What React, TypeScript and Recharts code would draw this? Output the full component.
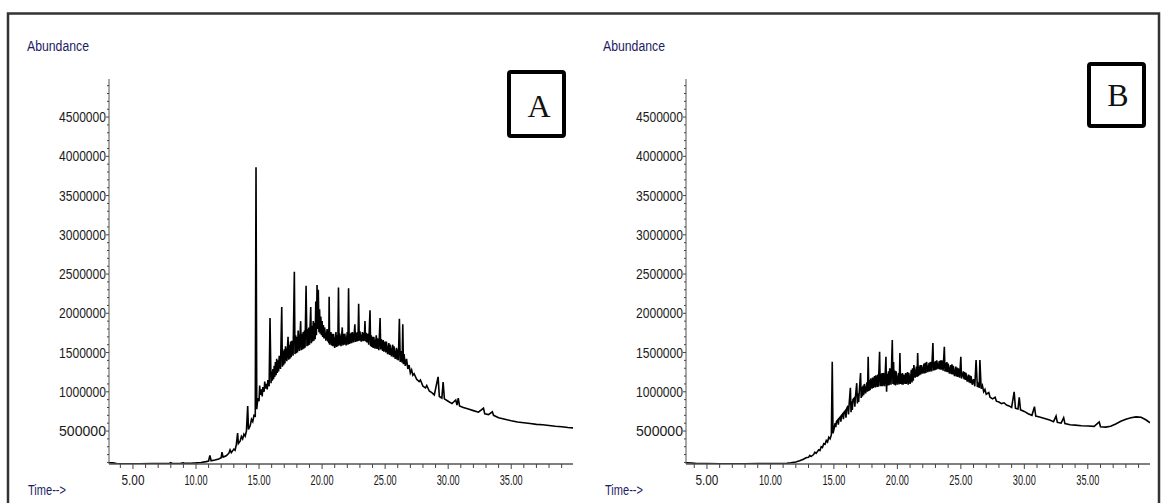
import React from 'react';
import { LineChart, Line, XAxis, YAxis } from 'recharts';

// retention time (min), abundance in thousands of counts
const traceA: [number, number][] = [
  [3.1, 96], [3.4, 94], [3.7, 86], [4.5, 84], [5.5, 84], [6.5, 85], [7.5, 85], [7.9, 90], [8.0, 96], [8.1, 87],
  [8.8, 88], [9.0, 95], [9.1, 88], [9.6, 90], [10.0, 94], [10.4, 100], [10.8, 110], [11.0, 118], [11.1, 190], [11.2, 122],
  [11.5, 132], [11.8, 145], [12.0, 160], [12.06, 230], [12.15, 168], [12.4, 185], [12.6, 215], [12.7, 260], [12.8, 225], [13.0, 270],
  [13.1, 255], [13.2, 330], [13.3, 475], [13.36, 340], [13.5, 370], [13.6, 430], [13.7, 400], [13.8, 460], [13.9, 435], [14.0, 500],
  [14.1, 820], [14.16, 520], [14.3, 570], [14.4, 650], [14.5, 620], [14.6, 700], [14.7, 690], [14.76, 3860], [14.82, 780], [14.9, 920],
  [15.0, 880], [15.05, 1080], [15.1, 960], [15.2, 1030], [15.25, 940], [15.3, 1060], [15.4, 1000], [15.45, 1130], [15.5, 1040], [15.6, 1100],
  [15.65, 1030], [15.7, 1150], [15.8, 1070], [15.87, 1940], [15.95, 1110], [16.0, 1260], [16.05, 1140], [16.1, 1290], [16.15, 1160], [16.2, 1330],
  [16.25, 1190], [16.3, 1380], [16.35, 1210], [16.4, 1420], [16.45, 1240], [16.5, 1400], [16.55, 1260], [16.6, 1460], [16.7, 1290], [16.8, 2080],
  [16.85, 1320], [16.9, 1520], [16.95, 1340], [17.0, 1540], [17.05, 1360], [17.1, 1580], [17.2, 1390], [17.3, 1700], [17.35, 1410], [17.4, 1600],
  [17.45, 1420], [17.5, 1640], [17.55, 1440], [17.6, 1650], [17.7, 1460], [17.8, 2530], [17.85, 1480], [17.9, 1720], [17.95, 1490], [18.0, 1700],
  [18.05, 1500], [18.1, 1780], [18.2, 1520], [18.3, 1900], [18.35, 1530], [18.4, 1740], [18.45, 1540], [18.5, 1760], [18.55, 1550], [18.6, 1780],
  [18.65, 1560], [18.73, 2350], [18.8, 1580], [18.85, 1800], [18.9, 1590], [18.95, 1820], [19.0, 1600], [19.1, 2080], [19.15, 1620], [19.2, 1840],
  [19.25, 1640], [19.3, 1900], [19.35, 1650], [19.4, 1880], [19.45, 1670], [19.5, 2150], [19.55, 1720], [19.6, 2360], [19.65, 1800], [19.7, 2300],
  [19.75, 1760], [19.8, 2050], [19.85, 1740], [19.9, 1960], [19.95, 1720], [20.0, 1900], [20.05, 1700], [20.1, 1850], [20.15, 1680], [20.2, 1820],
  [20.3, 1650], [20.4, 1800], [20.45, 1640], [20.5, 1780], [20.53, 1620], [20.56, 2210], [20.6, 1600], [20.7, 1760], [20.75, 1590], [20.8, 1740],
  [20.85, 1580], [20.9, 1740], [21.0, 1560], [21.1, 1760], [21.15, 1570], [21.2, 1720], [21.25, 1580], [21.3, 2330], [21.35, 1590], [21.4, 1740],
  [21.5, 1580], [21.6, 1820], [21.65, 1590], [21.7, 1740], [21.75, 1600], [21.8, 1740], [21.9, 1590], [22.0, 1760], [22.05, 1600], [22.1, 2320],
  [22.15, 1610], [22.2, 1740], [22.25, 1615], [22.3, 1750], [22.35, 1620], [22.4, 1760], [22.5, 1630], [22.6, 1860], [22.65, 1635], [22.7, 1750],
  [22.75, 1640], [22.8, 1760], [22.85, 1645], [22.9, 2120], [22.95, 1650], [23.0, 1770], [23.1, 1640], [23.2, 1760], [23.25, 1645], [23.3, 1750],
  [23.35, 1650], [23.4, 1900], [23.45, 1640], [23.5, 1750], [23.55, 1630], [23.6, 1740], [23.7, 1600], [23.8, 2040], [23.85, 1580], [23.9, 1720],
  [23.95, 1570], [24.0, 1700], [24.05, 1560], [24.1, 1700], [24.2, 1550], [24.3, 1720], [24.35, 1545], [24.4, 1680], [24.5, 1530], [24.6, 1940],
  [24.65, 1540], [24.7, 1670], [24.8, 1520], [24.85, 1660], [24.9, 1510], [25.0, 1640], [25.05, 1500], [25.1, 1640], [25.2, 1480], [25.3, 1620],
  [25.35, 1470], [25.4, 1600], [25.5, 1450], [25.6, 1600], [25.65, 1440], [25.7, 1580], [25.8, 1420], [25.9, 1560], [25.95, 1410], [26.0, 1540],
  [26.05, 1400], [26.13, 1930], [26.2, 1380], [26.3, 1520], [26.35, 1370], [26.4, 1860], [26.45, 1350], [26.5, 1480], [26.6, 1330], [26.7, 1420],
  [26.8, 1290], [26.9, 1340], [27.0, 1240], [27.1, 1280], [27.2, 1210], [27.3, 1230], [27.5, 1160], [27.7, 1130], [27.8, 1150], [28.0, 1070],
  [28.2, 1050], [28.3, 1080], [28.5, 1010], [28.7, 990], [28.9, 960], [29.2, 1190], [29.3, 940], [29.5, 920], [29.6, 1125], [29.7, 910],
  [30.0, 880], [30.3, 850], [30.6, 895], [30.7, 830], [30.8, 920], [30.9, 820], [31.2, 800], [31.6, 780], [32.0, 760], [32.4, 740],
  [32.8, 790], [32.9, 720], [33.2, 710], [33.5, 745], [33.6, 700], [34.0, 670], [34.5, 650], [35.0, 630], [35.5, 615], [36.0, 605],
  [36.5, 595], [37.0, 585], [37.5, 580], [38.0, 570], [38.5, 560], [39.0, 555], [39.5, 545], [39.9, 540],
];

const traceB: [number, number][] = [
  [3.35, 95], [3.8, 92], [4.2, 86], [5.0, 85], [6.0, 84], [7.0, 84], [8.0, 84], [9.0, 85], [10.0, 85], [10.8, 86],
  [11.3, 90], [11.6, 95], [12.0, 105], [12.3, 120], [12.6, 140], [12.8, 160], [13.0, 165], [13.1, 190], [13.2, 175], [13.4, 200],
  [13.5, 230], [13.6, 215], [13.8, 260], [13.9, 250], [14.0, 300], [14.1, 290], [14.2, 340], [14.3, 330], [14.4, 380], [14.5, 360],
  [14.6, 420], [14.7, 400], [14.8, 450], [14.87, 1383], [14.93, 470], [15.0, 520], [15.1, 600], [15.15, 550], [15.2, 620], [15.3, 640],
  [15.35, 580], [15.4, 660], [15.5, 680], [15.55, 620], [15.6, 700], [15.7, 720], [15.75, 650], [15.8, 740], [15.9, 760], [15.95, 670],
  [16.0, 780], [16.1, 820], [16.15, 710], [16.2, 840], [16.3, 1050], [16.35, 740], [16.4, 880], [16.45, 770], [16.5, 900], [16.6, 920],
  [16.65, 810], [16.7, 940], [16.8, 1110], [16.85, 850], [16.9, 980], [16.95, 870], [17.0, 1000], [17.1, 1240], [17.15, 920], [17.2, 1060],
  [17.25, 940], [17.3, 1080], [17.35, 960], [17.4, 1100], [17.5, 980], [17.6, 1120], [17.65, 1000], [17.7, 1446], [17.75, 1010], [17.8, 1150],
  [17.85, 1020], [17.9, 1170], [18.0, 1040], [18.05, 1180], [18.1, 1050], [18.2, 1200], [18.25, 1055], [18.3, 1210], [18.4, 1060], [18.45, 1220],
  [18.5, 1065], [18.6, 1510], [18.65, 1070], [18.7, 1230], [18.75, 1070], [18.8, 1240], [18.85, 1070], [18.9, 1240], [19.0, 1070], [19.1, 1446],
  [19.15, 1000], [19.2, 1230], [19.25, 1080], [19.3, 1260], [19.35, 1085], [19.4, 1300], [19.5, 1090], [19.6, 1660], [19.65, 1100], [19.7, 1380],
  [19.75, 1090], [19.8, 1270], [19.85, 1080], [19.9, 1260], [20.0, 1090], [20.1, 1240], [20.15, 1095], [20.2, 1494], [20.25, 1100], [20.3, 1230],
  [20.35, 1095], [20.4, 1240], [20.45, 1090], [20.5, 1220], [20.6, 1100], [20.65, 1240], [20.7, 1100], [20.8, 1250], [20.85, 1090], [20.9, 1240],
  [21.0, 1100], [21.1, 1280], [21.15, 1120], [21.2, 1300], [21.25, 1140], [21.3, 1340], [21.4, 1180], [21.5, 1320], [21.55, 1190], [21.6, 1494],
  [21.65, 1200], [21.7, 1320], [21.75, 1210], [21.8, 1340], [21.85, 1220], [21.9, 1340], [22.0, 1230], [22.1, 1360], [22.15, 1235], [22.2, 1370],
  [22.25, 1240], [22.3, 1380], [22.4, 1250], [22.5, 1370], [22.55, 1255], [22.6, 1380], [22.7, 1260], [22.8, 1620], [22.85, 1270], [22.9, 1380],
  [22.95, 1275], [23.0, 1390], [23.05, 1280], [23.1, 1400], [23.2, 1290], [23.3, 1390], [23.35, 1285], [23.4, 1400], [23.45, 1280], [23.5, 1400],
  [23.6, 1270], [23.7, 1574], [23.75, 1260], [23.8, 1370], [23.85, 1255], [23.9, 1380], [23.95, 1250], [24.0, 1360], [24.1, 1230], [24.2, 1340],
  [24.25, 1225], [24.3, 1350], [24.35, 1220], [24.4, 1330], [24.5, 1200], [24.6, 1320], [24.65, 1195], [24.7, 1310], [24.75, 1190], [24.8, 1300],
  [24.9, 1180], [25.0, 1446], [25.05, 1170], [25.2, 1260], [25.25, 1160], [25.3, 1250], [25.35, 1150], [25.4, 1240], [25.5, 1130], [25.6, 1220],
  [25.65, 1120], [25.7, 1210], [25.75, 1110], [25.8, 1200], [25.9, 1090], [26.0, 1160], [26.1, 1070], [26.2, 1405], [26.3, 1060], [26.4, 1120],
  [26.45, 1050], [26.5, 1405], [26.6, 1040], [26.7, 1080], [26.8, 1000], [26.9, 1030], [27.0, 970], [27.2, 990], [27.3, 930], [27.5, 910],
  [27.7, 930], [27.8, 880], [28.0, 870], [28.2, 850], [28.4, 860], [28.6, 830], [28.8, 820], [29.0, 800], [29.2, 1000], [29.3, 790],
  [29.5, 780], [29.6, 930], [29.7, 770], [30.0, 750], [30.3, 720], [30.6, 700], [30.8, 810], [30.9, 690], [31.2, 680], [31.6, 660],
  [32.0, 640], [32.3, 620], [32.5, 690], [32.6, 610], [32.9, 600], [33.1, 670], [33.2, 595], [33.6, 580], [34.0, 575], [34.5, 568],
  [35.0, 565], [35.5, 560], [35.9, 615], [36.0, 555], [36.4, 550], [36.8, 560], [37.2, 590], [37.6, 625], [38.0, 650], [38.4, 670],
  [38.8, 680], [39.2, 675], [39.6, 640], [39.9, 605],
];

const timeLabels = [5, 10, 15, 20, 25, 30, 35];
const abundanceLabels = [500000, 1000000, 1500000, 2000000, 2500000, 3000000, 3500000, 4000000, 4500000];
const xMinorTicks = Array.from({ length: 36 }, (_, i) => i + 4);
const yMinorTicks = Array.from({ length: 49 }, (_, i) => (i + 1) * 100000);

const FONT = '"Liberation Sans", Arial, sans-serif';
const NAVY = '#1b1b63';

const YTick = (props: any) => {
  const { x, y, payload } = props;
  const major = abundanceLabels.includes(payload.value);
  return (
    <g>
      <line x1={x - (major ? 3 : 2)} x2={x} y1={y} y2={y} stroke="#444" strokeWidth={1} />
      {major && (
        <text x={x - 3} y={y} dy={5} textAnchor="end" fontSize={14} fontFamily={FONT} fill="#1a1a1a"
          textLength={47} lengthAdjust="spacingAndGlyphs">
          {payload.value}
        </text>
      )}
    </g>
  );
};

const XTick = (props: any) => {
  const { x, y, payload } = props;
  const major = timeLabels.includes(payload.value);
  return (
    <g>
      <line x1={x} x2={x} y1={y} y2={y + (major ? 5 : 4)} stroke="#444" strokeWidth={1} />
      {major && (
        <text x={x} y={y + 21} textAnchor="middle" fontSize={14} fontFamily={FONT} fill="#1a1a1a"
          textLength={23} lengthAdjust="spacingAndGlyphs">
          {payload.value.toFixed(2)}
        </text>
      )}
    </g>
  );
};

function Chromatogram({ trace, start, left }: { trace: [number, number][]; start: number; left: number }) {
  const data = trace.map(([t, k]) => ({ t, v: k * 1000 }));
  return (
    <div style={{ position: 'absolute', left, top: 0 }}>
      <LineChart width={580} height={503} data={data} margin={{ top: 79, right: 7, bottom: 9, left: 0 }}>
        <XAxis dataKey="t" type="number" domain={[start, 39.9]} allowDataOverflow ticks={xMinorTicks}
          interval={0} tick={<XTick />} tickLine={false} tickSize={0} tickMargin={0} height={30}
          axisLine={{ stroke: '#555', strokeWidth: 1.5 }} />
        <YAxis type="number" domain={[80000, 4985000]} allowDataOverflow ticks={yMinorTicks}
          interval={0} tick={<YTick />} tickLine={false} tickSize={0} tickMargin={0} width={109}
          axisLine={{ stroke: '#555', strokeWidth: 1 }} />
        <Line type="linear" dataKey="v" stroke="#000" strokeWidth={1.6} dot={false} isAnimationActive={false} />
      </LineChart>
    </div>
  );
}

export default function App() {
  return (
    <div style={{ position: 'absolute', left: 0, top: 0, width: 1163, height: 503, background: '#fff', overflow: 'hidden' }}>
      <Chromatogram trace={traceA} start={3.1} left={0} />
      <Chromatogram trace={traceB} start={3.35} left={577} />
      <svg width={1163} height={503} style={{ position: 'absolute', left: 0, top: 0, pointerEvents: 'none' }}>
        <rect x={8} y={13.5} width={1151} height={600} fill="none" stroke="#333" strokeWidth={2.5} />
        <text x={27} y={51} fontSize={14} fontFamily={FONT} fill={NAVY} textLength={62} lengthAdjust="spacingAndGlyphs">Abundance</text>
        <text x={603} y={51} fontSize={14} fontFamily={FONT} fill={NAVY} textLength={62} lengthAdjust="spacingAndGlyphs">Abundance</text>
        <text x={28} y={495} fontSize={14} fontFamily={FONT} fill={NAVY} textLength={38} lengthAdjust="spacingAndGlyphs">Time--&gt;</text>
        <text x={605} y={495} fontSize={14} fontFamily={FONT} fill={NAVY} textLength={38} lengthAdjust="spacingAndGlyphs">Time--&gt;</text>
        <rect x={509} y={72} width={55} height={64} rx={2} fill="#fff" stroke="#000" strokeWidth={4} />
        <text x={539} y={117} textAnchor="middle" fontSize={32} fontFamily='"Liberation Serif", "Times New Roman", serif' fill="#111">A</text>
        <rect x={1089} y={64} width={55} height={62} rx={2} fill="#fff" stroke="#000" strokeWidth={4} />
        <text x={1118} y={106} textAnchor="middle" fontSize={32} fontFamily='"Liberation Serif", "Times New Roman", serif' fill="#111">B</text>
      </svg>
    </div>
  );
}
